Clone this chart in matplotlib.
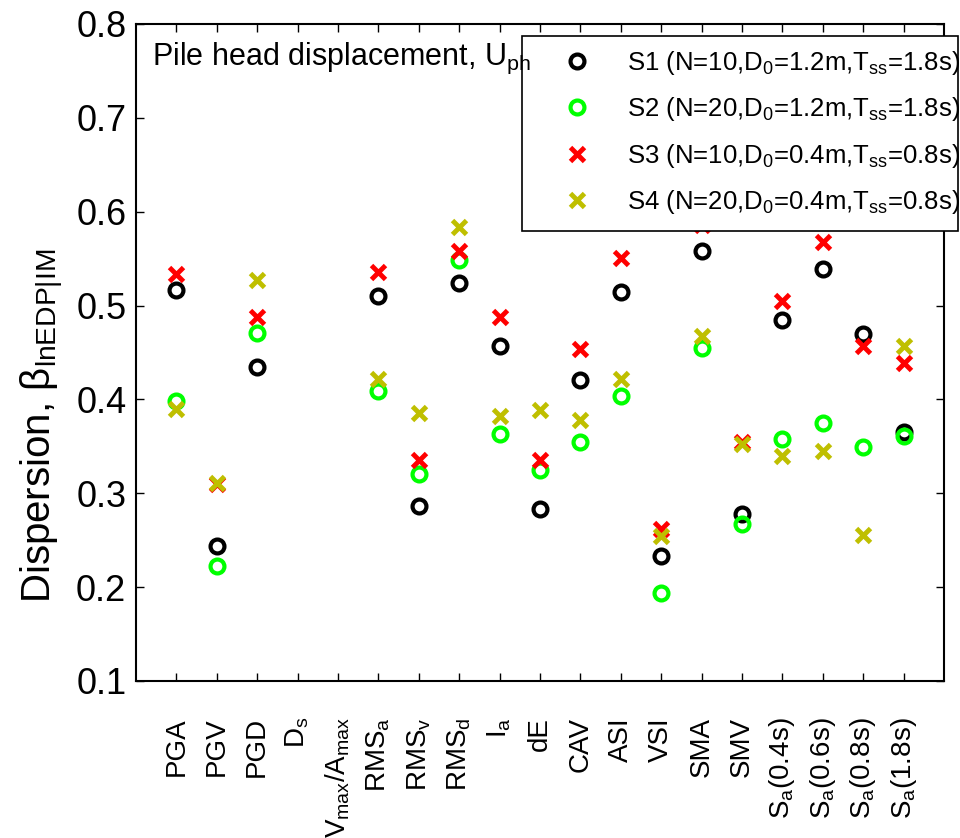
import numpy as np
import matplotlib
matplotlib.use('Agg')
import matplotlib.pyplot as plt
from matplotlib.patches import Rectangle

plt.rcParams['font.family'] = ['Liberation Sans', 'DejaVu Sans']
plt.rcParams['mathtext.fontset'] = 'custom'
plt.rcParams['mathtext.rm'] = 'Liberation Sans'
plt.rcParams['mathtext.it'] = 'Liberation Sans:italic'

# intensity measures (x categories)
ims = [r'PGA', r'PGV', r'PGD', r'$\mathrm{D_s}$', r'$\mathrm{V_{max}/A_{max}}$',
       r'$\mathrm{RMS_a}$', r'$\mathrm{RMS_v}$', r'$\mathrm{RMS_d}$', r'$\mathrm{I_a}$',
       r'dE', r'CAV', r'ASI', r'VSI', r'SMA', r'SMV',
       r'$\mathrm{S_a(0.4s)}$', r'$\mathrm{S_a(0.6s)}$', r'$\mathrm{S_a(0.8s)}$',
       r'$\mathrm{S_a(1.8s)}$']

nan = np.nan
# dispersion values (D_s and Vmax/Amax not shown)
s1 = [0.517, 0.244, 0.435, nan, nan, 0.510, 0.286, 0.524, 0.457, 0.283, 0.421,
      0.514, 0.233, 0.558, 0.278, 0.485, 0.539, 0.470, 0.365]
s2 = [0.398, 0.222, 0.471, nan, nan, 0.409, 0.321, 0.548, 0.363, 0.325, 0.355,
      0.404, 0.194, 0.455, 0.267, 0.358, 0.375, 0.349, 0.361]
s3 = [0.534, 0.310, 0.488, nan, nan, 0.536, 0.335, 0.558, 0.488, 0.335, 0.454,
      0.551, 0.262, 0.586, 0.355, 0.505, 0.568, 0.457, 0.439]
s4 = [0.390, 0.311, 0.527, nan, nan, 0.422, 0.385, 0.584, 0.382, 0.389, 0.378,
      0.422, 0.254, 0.468, 0.353, 0.340, 0.345, 0.255, 0.457]

labels = [r'S1 (N=10,D$_0$=1.2m,T$_{\mathrm{ss}}$=1.8s)',
          r'S2 (N=20,D$_0$=1.2m,T$_{\mathrm{ss}}$=1.8s)',
          r'S3 (N=10,D$_0$=0.4m,T$_{\mathrm{ss}}$=0.8s)',
          r'S4 (N=20,D$_0$=0.4m,T$_{\mathrm{ss}}$=0.8s)']

x = np.arange(1, len(ims) + 1)

fig = plt.figure(figsize=(9.6, 8.38), dpi=100)
ax = fig.add_axes([0.1417, 0.1874, 0.8416, 0.784])

h1, = ax.plot(x, s1, 'o', ls='none', mfc='none', mec='k', ms=10, mew=3)
h2, = ax.plot(x, s2, 'o', ls='none', mfc='none', mec=(0, 1, 0), ms=10, mew=3)
h3, = ax.plot(x, s3, 'x', ls='none', color=(1, 0, 0), ms=10, mew=3.5)
h4, = ax.plot(x, s4, 'x', ls='none', color=(0.75, 0.75, 0), ms=10, mew=3.5)

ax.set_xlim(0, 20)
ax.set_ylim(0.1, 0.8)
ax.set_xticks(x)
ax.set_xticklabels(ims, rotation=90, fontsize=20)
ax.set_yticks(np.arange(0.1, 0.81, 0.1))
ax.set_yticklabels(['%.1f' % v for v in np.arange(0.1, 0.81, 0.1)], fontsize=26)
ax.tick_params(axis='both', direction='in', length=6, width=1, top=True, right=True)
ax.tick_params(axis='x', pad=26)
ax.tick_params(axis='y', pad=7)
for sp in ax.spines.values():
    sp.set_linewidth(1.5)

ax.set_ylabel(r'Dispersion, β$_{\mathrm{lnEDP|IM}}$', fontsize=29)
ax.yaxis.set_label_coords(-0.087, 0.388)

# legend box (MATLAB style, sticks out past the axes)
box = Rectangle((522 / 960, 1 - 231 / 838), 436 / 960, 195 / 838, transform=fig.transFigure,
                facecolor='white', edgecolor='k', linewidth=1.2, zorder=5)
fig.add_artist(box)
leg = fig.legend([h1, h2, h3, h4], labels, loc='upper left',
                 bbox_to_anchor=(522 / 960, 1 - 36 / 838), borderaxespad=0,
                 fontsize=18.5, frameon=False, handletextpad=0.3, handlelength=3.27,
                 labelspacing=0.72, borderpad=0.5, numpoints=1)
leg.set_zorder(6)

# panel title, drawn over the legend box edge like the original
fig.text(0.02, 0.9376, r'Pile head displacement, U$_{\mathrm{ph}}$', transform=ax.transAxes,
         fontsize=22, va='baseline', ha='left', zorder=7)

fig.savefig('out.png', dpi=100)
